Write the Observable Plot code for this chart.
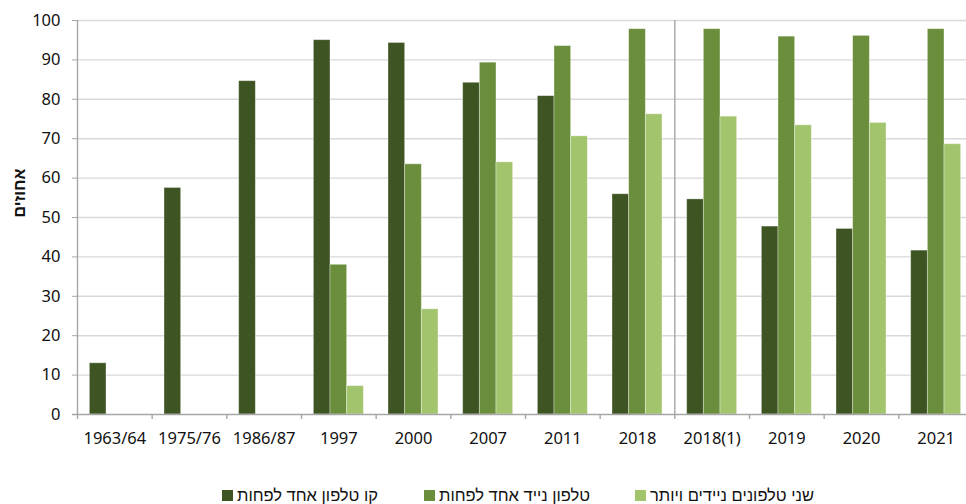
<!DOCTYPE html>
<html>
<head>
<meta charset="utf-8">
<script src="https://cdn.jsdelivr.net/npm/d3@7"></script>
<script src="https://cdn.jsdelivr.net/npm/@observablehq/plot@0.6"></script>
<style>
html, body { margin: 0; padding: 0; background: #fff; overflow: hidden; width: 966px; height: 504px; }
#chart { position: relative; width: 966px; height: 504px; overflow: hidden; font-family: "Noto Sans", "Open Sans", "DejaVu Sans", sans-serif; color: #111; }
#chart svg { display: block; }
.leg { position: absolute; top: 487px; height: 17px; line-height: 17px; display: flex; align-items: center; font-size: 16.5px; white-space: nowrap; color: #111; font-family: "Liberation Sans", "Noto Sans", sans-serif; }
.sw { width: 11px; height: 11px; margin-right: 4px; flex: none; }
</style>
</head>
<body>
<div id="chart"></div>
<script>
// ---- data ----
const categories = ["1963/64", "1975/76", "1986/87", "1997", "2000", "2007", "2011", "2018", "2018(1)", "2019", "2020", "2021"];
const landline = [13, 57.5, 84.6, 95, 94.3, 84.2, 80.8, 55.9, 54.6, 47.7, 47.1, 41.6];
const mobile = [null, null, null, 38, 63.5, 89.3, 93.5, 97.8, 97.8, 95.9, 96.1, 97.8];
const twoPlus = [null, null, null, 7.2, 26.7, 64.0, 70.6, 76.2, 75.6, 73.4, 74.0, 68.6];
const seriesNames = ["קו טלפון אחד לפחות", "טלפון נייד אחד לפחות", "שני טלפונים ניידים ויותר"];
const seriesColors = ["#3e5423", "#6a8e3b", "#a2c46d"];
const yTicks = [0, 10, 20, 30, 40, 50, 60, 70, 80, 90, 100];
const yLabel = "אחוזים";
const separatorAt = "2018(1)";

// ---- build table ----
const seriesValues = [landline, mobile, twoPlus];
const rows = [];
seriesValues.forEach((vals, s) => {
  vals.forEach((v, i) => {
    if (v != null) rows.push({cat: categories[i], series: seriesNames[s], s, value: v});
  });
});

const font = '"Noto Sans", "Open Sans", "DejaVu Sans", sans-serif';
const xStart = 77, xEnd = 973;
const step = (xEnd - xStart) / categories.length;
const bw = step * 0.2232;
const outer = (step - 3 * bw) / 2;
const axisGray = "#a6a6a6";

const barMarks = seriesNames.map((name, s) =>
  Plot.barY(rows.filter(d => d.s === s), {
    x: "cat", y: "value", fill: seriesColors[s],
    stroke: "#ffffff", strokeOpacity: 0.45, strokeWidth: 0.8,
    insetLeft: outer + s * bw, insetRight: outer + (2 - s) * bw
  })
);

const chart = Plot.plot({
  width: 966,
  height: 484,
  marginLeft: xStart,
  marginRight: 0,
  marginTop: 20,
  marginBottom: 70,
  style: {fontFamily: font, fontSize: "16.5px", color: "#111", background: "white", overflow: "hidden"},
  x: {type: "band", domain: categories, range: [xStart, xEnd], padding: 0, round: false, label: null},
  y: {domain: [0, 100], label: null},
  marks: [
    Plot.ruleY(yTicks.filter(t => t > 0), {stroke: "#d9d9d9", strokeWidth: 1.4}),
    ...barMarks,
    Plot.ruleY([0], {stroke: axisGray, strokeWidth: 1.4, insetLeft: -5}),
    Plot.ruleX(categories, {dx: -step / 2, stroke: axisGray, strokeWidth: 1.4, insetTop: 394, insetBottom: -5}),
    Plot.ruleX([categories[0], separatorAt], {dx: -step / 2, stroke: axisGray, strokeWidth: 1.4}),
    Plot.axisX({tickSize: 0, tickPadding: 18, label: null, fill: "#111"}),
    Plot.axisY({ticks: yTicks, tickSize: 5, tickPadding: 12, stroke: axisGray, label: null, fill: "#111"}),
    Plot.text([yLabel], {frameAnchor: "left", rotate: -90, dx: -58, fontWeight: "bold", fontSize: 16, fill: "#111", fontFamily: '"Liberation Sans", "Noto Sans", sans-serif'})
  ]
});

const root = document.getElementById("chart");
root.appendChild(chart);

// ---- legend ----
const legendLeft = [222, 424, 635];
seriesNames.forEach((name, s) => {
  const item = document.createElement("div");
  item.className = "leg";
  item.style.left = legendLeft[s] + "px";
  const sw = document.createElement("span");
  sw.className = "sw";
  sw.style.background = seriesColors[s];
  const t = document.createElement("span");
  t.textContent = name;
  item.appendChild(sw);
  item.appendChild(t);
  root.appendChild(item);
});
</script>
</body>
</html>
